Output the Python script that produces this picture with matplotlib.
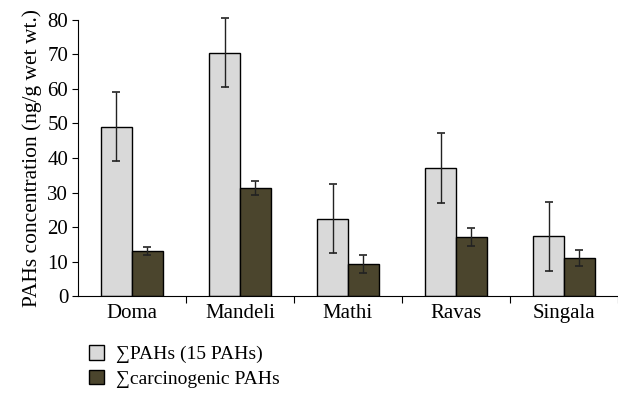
import numpy as np
import matplotlib.pyplot as plt

# 데이터
sites = ["Doma", "Mandeli", "Mathi", "Ravas", "Singala"]
total_pahs = [49.0, 70.5, 22.4, 37.1, 17.4]
total_err = [10.0, 10.0, 10.0, 10.0, 10.0]
carc_pahs = [13.0, 31.2, 9.4, 17.1, 11.1]
carc_err = [1.2, 2.0, 2.6, 2.6, 2.3]

plt.rcParams['font.family'] = ['Liberation Serif', 'DejaVu Serif']

fig = plt.figure(figsize=(6.18, 3.98), dpi=100)
ax = fig.add_axes([0.126, 0.256, 0.874, 0.694])

x = np.arange(len(sites))
w = 0.285
ekw = dict(elinewidth=1, capthick=1.2, ecolor="#222222", clip_on=False)
b1 = ax.bar(x - w / 2, total_pahs, w, yerr=total_err, color="#d9d9d9",
            edgecolor="black", linewidth=1.0, capsize=3, error_kw=ekw,
            label="\u2211PAHs (15 PAHs)")
b2 = ax.bar(x + w / 2, carc_pahs, w, yerr=carc_err, color="#4b452d",
            edgecolor="black", linewidth=1.0, capsize=3, error_kw=ekw,
            label="\u2211carcinogenic PAHs")
for bars in (b1, b2):
    for ln in bars.errorbar.lines[1] + bars.errorbar.lines[2]:
        ln.set_clip_on(False)

ax.set_ylim(0, 80)
ax.set_xlim(-0.5, -0.5 + 540 / 109)
ax.set_yticks(range(0, 81, 10))
ax.tick_params(axis="y", labelsize=15, direction="out", length=4, pad=3)

# 그룹 경계에 눈금, 가운데에 라벨
ax.set_xticks(x + 0.5)
ax.set_xticklabels([])
ax.set_xticks(x, minor=True)
ax.set_xticklabels(sites, minor=True, fontsize=15)
ax.tick_params(axis="x", which="major", direction="out", length=5)
ax.tick_params(axis="x", which="minor", length=0, pad=6)

for s in ["top", "right"]:
    ax.spines[s].set_visible(False)

ax.set_ylabel("PAHs concentration (ng/g wet wt.)", fontsize=15.5, labelpad=4)

fig.legend(loc="upper left", bbox_to_anchor=(0.132, 0.152), frameon=False,
           fontsize=14, handlelength=0.75, handleheight=0.75,
           handletextpad=0.6, labelspacing=0.35, borderaxespad=0)

fig.savefig("out.png", dpi=100)
